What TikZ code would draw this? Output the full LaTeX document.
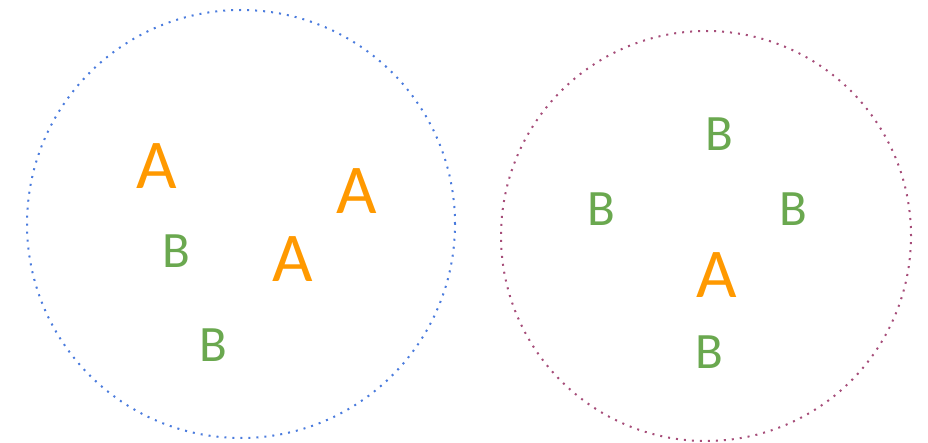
\documentclass[tikz,border=0pt]{standalone}
\usepackage{fontspec}
\setmainfont{Carlito}
\usetikzlibrary{positioning}
\definecolor{setblue}{HTML}{4A7BDD}
\definecolor{setplum}{HTML}{A64D79}
\definecolor{aorange}{HTML}{FF9900}
\definecolor{bgreen}{HTML}{6AA84F}

\begin{document}
\begin{tikzpicture}[x=1pt, y=-1pt,
  ring/.style={draw=#1, line width=2pt, dash pattern=on 2pt off 6pt},
  lettA/.style={inner sep=0pt, text=aorange, font=\fontsize{70}{70}\selectfont},
  lettB/.style={inner sep=0pt, text=bgreen, font=\fontsize{51}{51}\selectfont},
]
\useasboundingbox (0,0) rectangle (928,443);

% Sets
\node[ring=setblue, circle, minimum size=428pt, inner sep=0pt] (left) at (241,224) {};
\node[ring=setplum, circle, minimum size=410pt, inner sep=0pt] (right) at (706,236) {};

% Left set
\node[lettA] (a1) at (157,166) {A};
\node[lettA] (a2) at (357,191) {A};
\node[lettA] (a3) at (293,259) {A};
\node[lettB] (b1) at (176,251) {B};
\node[lettB] (b2) at (213,345) {B};

% Right set
\node[lettB] (b3) at (719,134) {B};
\node[lettB] (b4) at (601,209) {B};
\node[lettB] (b5) at (793,209) {B};
\node[lettA] (a4) at (717,275) {A};
\node[lettB] (b6) at (709,352) {B};

\end{tikzpicture}
\end{document}
